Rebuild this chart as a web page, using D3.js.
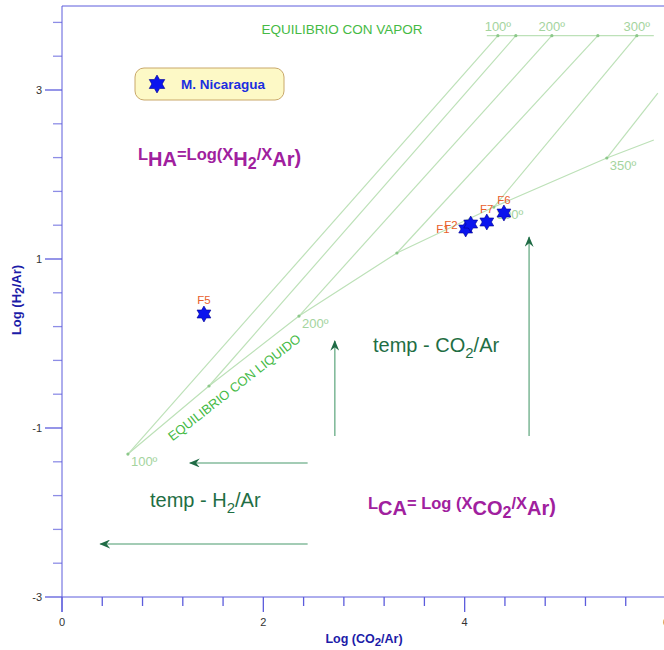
<!DOCTYPE html>
<html lang="es">
    <head>
        <meta charset="utf-8">
        <title>Geotermometro CO2-H2-Ar</title>
        <script src="https://d3js.org/d3.v7.min.js"></script>
        <style type="text/css">
            body { margin: 0; background: #fff; }
            text { font-family: "Liberation Sans", Arial, sans-serif; }
        </style>
    </head>
    <body>
        <script type="text/javascript">

            //consts
            const w = 664;
            const h = 650;

            //data - muestras (log CO2/Ar, log H2/Ar)
            const sampleNames = ["F1", "F2", "F7", "F6", "F5"];
            const sampleX = [4.01, 4.06, 4.22, 4.39, 1.41];
            const sampleY = [1.355, 1.414, 1.438, 1.544, 0.349];

            //curva de equilibrio con liquido
            const liqTemps = [100, 150, 200, 250, 300, 350];
            const liqX = [0.655, 1.460, 2.354, 3.327, 4.290, 5.412];
            const liqY = [-1.308, -0.503, 0.325, 1.071, 1.615, 2.195];
            const liqEnd = [5.879, 2.408];

            //linea de equilibrio con vapor
            const vapTemps = [100, 150, 200, 250, 300];
            const vapX = [4.330, 4.508, 4.866, 5.323, 5.710];
            const vapY = 3.643;
            const vapRange = [4.220, 5.879];
            const iso350End = [5.919, 2.964];
            const labelledTemps = [100, 200, 300, 350];

            //ticks
            const xMajor = [0, 2, 4, 6];
            const yMajor = [-3, -1, 1, 3];
            const xMinor = d3.range(0, 16).map(i => +(i * 0.4).toFixed(1));
            const yMinor = d3.range(0, 18).map(i => +(-3 + i * 0.4).toFixed(1));

            //scales
            const xScale = d3.scaleLinear().domain([0, 6]).range([62, 666]);
            const yScale = d3.scaleLinear().domain([-3, 4]).range([597, 5.5]);

            const axisColor = "#5c5cdc";
            const gridColor = "#bde1b8";
            const tempColor = "#a4d49e";

            const svg = d3.select("body")
                          .append("svg")
                          .attr("width", w)
                          .attr("height", h);

            const defs = svg.append("defs");
            defs.append("marker")
                .attr("id", "head")
                .attr("viewBox", "0 0 12 10")
                .attr("refX", 11)
                .attr("refY", 5)
                .attr("markerWidth", 11)
                .attr("markerHeight", 9)
                .attr("markerUnits", "userSpaceOnUse")
                .attr("orient", "auto")
                .append("path")
                .attr("d", "M0,0 L12,5 L0,10 L4,5 Z")
                .attr("fill", "#1f6b45");

            //hexagram (estrella de 6 puntas)
            function hexagram(cx, cy, R) {
                const r = R / Math.sqrt(3);
                const pts = d3.range(12).map(i => {
                    const a = -Math.PI / 2 + i * Math.PI / 6;
                    const rr = i % 2 === 0 ? R : r;
                    return [cx + rr * Math.cos(a), cy + rr * Math.sin(a)];
                });
                return "M" + pts.join("L") + "Z";
            }

            //frame top
            svg.append("line")
               .attr("x1", 62).attr("x2", w)
               .attr("y1", 6).attr("y2", 6)
               .attr("stroke", axisColor);

            //grid: lineas de equilibrio
            const grid = svg.append("g")
                            .attr("fill", "none")
                            .attr("stroke", gridColor)
                            .attr("stroke-width", 1.2);

            const liqPts = liqX.map((d, i) => [xScale(d), yScale(liqY[i])]);
            liqPts.push([xScale(liqEnd[0]), yScale(liqEnd[1])]);
            grid.append("path").attr("d", d3.line()(liqPts));

            grid.append("line")
                .attr("x1", xScale(vapRange[0])).attr("x2", xScale(vapRange[1]))
                .attr("y1", yScale(vapY)).attr("y2", yScale(vapY));

            liqTemps.forEach((t, i) => {
                const j = vapTemps.indexOf(t);
                const end = j >= 0 ? [xScale(vapX[j]), yScale(vapY)] : [xScale(iso350End[0]), yScale(iso350End[1])];
                grid.append("line")
                    .attr("x1", xScale(liqX[i])).attr("y1", yScale(liqY[i]))
                    .attr("x2", end[0]).attr("y2", end[1]);
            });

            //puntos de la grilla
            svg.append("g").selectAll("circle")
               .data(liqTemps.map((t, i) => [liqX[i], liqY[i]]).concat(vapX.map(d => [d, vapY])))
               .enter()
               .append("circle")
               .attr("cx", d => xScale(d[0]))
               .attr("cy", d => yScale(d[1]))
               .attr("r", 1.6)
               .attr("fill", "#8cc88a");

            //etiquetas de temperatura
            svg.append("g").selectAll("text")
               .data(liqTemps.map((t, i) => ({t: t, x: liqX[i], y: liqY[i]})).filter(d => labelledTemps.includes(d.t)))
               .enter()
               .append("text")
               .attr("x", d => xScale(d.x) + 3)
               .attr("y", d => yScale(d.y) + 12)
               .attr("font-size", 13)
               .attr("fill", tempColor)
               .text(d => d.t + "º");

            svg.append("g").selectAll("text")
               .data(vapTemps.map((t, i) => ({t: t, x: vapX[i]})).filter(d => labelledTemps.includes(d.t)))
               .enter()
               .append("text")
               .attr("x", d => xScale(d.x))
               .attr("y", yScale(vapY) - 5)
               .attr("text-anchor", "middle")
               .attr("font-size", 13)
               .attr("fill", tempColor)
               .text(d => d.t + "º");

            svg.append("text")
               .attr("x", 342).attr("y", 34)
               .attr("text-anchor", "middle")
               .attr("font-size", 13.5)
               .attr("fill", "#45ba45")
               .text("EQUILIBRIO CON VAPOR");

            svg.append("text")
               .attr("transform", "translate(237,391) rotate(-38)")
               .attr("text-anchor", "middle")
               .attr("font-size", 13)
               .attr("fill", "#45ba45")
               .text("EQUILIBRIO CON LIQUIDO");

            //flechas
            const arrows = [
                [[2.71, -1.095], [2.71, 0.03]],
                [[4.64, -1.095], [4.64, 1.26]],
                [[2.44, -1.414], [1.27, -1.414]],
                [[2.44, -2.373], [0.38, -2.373]]
            ];
            svg.append("g").selectAll("line")
               .data(arrows)
               .enter()
               .append("line")
               .attr("x1", d => xScale(d[0][0])).attr("y1", d => yScale(d[0][1]))
               .attr("x2", d => xScale(d[1][0])).attr("y2", d => yScale(d[1][1]))
               .attr("stroke", "#84bb9c")
               .attr("stroke-width", 1.6)
               .attr("marker-end", "url(#head)");

            //textos
            const t1 = svg.append("text").attr("x", 373).attr("y", 352)
                          .attr("font-size", 20).attr("fill", "#1f6e44");
            t1.append("tspan").text("temp - CO");
            t1.append("tspan").attr("dy", 6).attr("font-size", 15).text("2");
            t1.append("tspan").attr("dy", -6).text("/Ar");

            const t2 = svg.append("text").attr("x", 150).attr("y", 507)
                          .attr("font-size", 20).attr("fill", "#1f6e44");
            t2.append("tspan").text("temp - H");
            t2.append("tspan").attr("dy", 6).attr("font-size", 15).text("2");
            t2.append("tspan").attr("dy", -6).text("/Ar");

            function formula(x, y, parts) {
                const t = svg.append("text").attr("x", x).attr("y", y)
                             .attr("font-weight", "bold").attr("fill", "#a0209e");
                parts.forEach(p => t.append("tspan").attr("dy", p[1]).attr("font-size", p[2]).text(p[0]));
            }
            formula(138, 160, [["L", 0, 16.5], ["HA", 6, 20], ["=Log(X", -6, 16.5], ["H", 6, 20], ["2", 3, 16], ["/X", -9, 16.5], ["Ar", 6, 20], [")", -2, 20]]);
            formula(368, 509, [["L", 0, 16.5], ["CA", 6, 20], ["= Log (X", -6, 16.5], ["CO", 6, 20], ["2", 3, 16], ["/X", -9, 16.5], ["Ar", 6, 20], [")", -2, 20]]);

            //axes
            const axes = svg.append("g").attr("stroke", axisColor);
            axes.append("line").attr("x1", 62).attr("x2", 62).attr("y1", 6).attr("y2", 612);
            axes.append("line").attr("x1", 62).attr("x2", w).attr("y1", 597).attr("y2", 597);

            axes.selectAll("line.ymin")
                .data(yMinor.filter(d => d <= 4))
                .enter()
                .append("line")
                .attr("class", "ymin")
                .attr("x1", d => yMajor.includes(d) ? 45 : 53).attr("x2", 62)
                .attr("y1", d => yScale(d)).attr("y2", d => yScale(d))
                .attr("stroke-opacity", d => yMajor.includes(d) ? 1 : 0.7)
                .attr("stroke-width", 1.3);

            axes.selectAll("line.xmin")
                .data(xMinor)
                .enter()
                .append("line")
                .attr("class", "xmin")
                .attr("x1", d => xScale(d)).attr("x2", d => xScale(d))
                .attr("y1", 597).attr("y2", d => xMajor.includes(d) ? 612 : 606)
                .attr("stroke-width", 1.3);

            svg.append("g").selectAll("text")
               .data(yMajor)
               .enter()
               .append("text")
               .attr("x", 42)
               .attr("y", d => yScale(d) + 4)
               .attr("text-anchor", "end")
               .attr("font-size", 11)
               .attr("fill", "#333")
               .text(d => d);

            svg.append("g").selectAll("text")
               .data(xMajor)
               .enter()
               .append("text")
               .attr("x", d => xScale(d))
               .attr("y", 626)
               .attr("text-anchor", "middle")
               .attr("font-size", 11)
               .attr("fill", "#333")
               .text(d => d);

            const xl = svg.append("text").attr("x", 364).attr("y", 643)
                          .attr("text-anchor", "middle")
                          .attr("font-size", 12.5).attr("font-weight", "bold").attr("fill", "#1c1ca8");
            xl.append("tspan").text("Log (CO");
            xl.append("tspan").attr("dy", 3).attr("font-size", 11.5).text("2");
            xl.append("tspan").attr("dy", -3).text("/Ar)");

            const yl = svg.append("text").attr("transform", "translate(21,300) rotate(-90)")
                          .attr("text-anchor", "middle")
                          .attr("font-size", 13).attr("font-weight", "bold").attr("fill", "#1c1ca8");
            yl.append("tspan").text("Log  (H");
            yl.append("tspan").attr("dy", 3).attr("font-size", 12).text("2");
            yl.append("tspan").attr("dy", -3).text("/Ar)");

            //muestras
            const labelPos = {F1: [-16, 4, "end"], F2: [-13, 5, "end"], F7: [0, -9, "middle"], F6: [0, -9, "middle"], F5: [0, -10, "middle"]};
            sampleNames.forEach((n, i) => {
                const cx = xScale(sampleX[i]), cy = yScale(sampleY[i]);
                const lp = labelPos[n];
                svg.append("text")
                   .attr("x", cx + lp[0]).attr("y", cy + lp[1])
                   .attr("text-anchor", lp[2])
                   .attr("font-size", 11.5)
                   .attr("fill", "#e8602c")
                   .text(n);
            });
            sampleNames.forEach((n, i) => {
                svg.append("path")
                   .attr("d", hexagram(xScale(sampleX[i]), yScale(sampleY[i]), 8))
                   .attr("fill", "#0a14ee")
                   .attr("stroke", "#000090")
                   .attr("stroke-width", 0.6);
            });

            //leyenda
            svg.append("rect")
               .attr("x", 135).attr("y", 68)
               .attr("width", 149).attr("height", 32)
               .attr("rx", 9)
               .attr("fill", "#fdf9c6")
               .attr("stroke", "#c9a86a");
            svg.append("path")
               .attr("d", hexagram(157, 84, 9))
               .attr("fill", "#0a14ee")
               .attr("stroke", "#000090")
               .attr("stroke-width", 0.6);
            svg.append("text")
               .attr("x", 181).attr("y", 89)
               .attr("font-size", 13.5)
               .attr("font-weight", "bold")
               .attr("fill", "#1a2ee0")
               .text("M. Nicaragua");

        </script>
    </body>
</html>
